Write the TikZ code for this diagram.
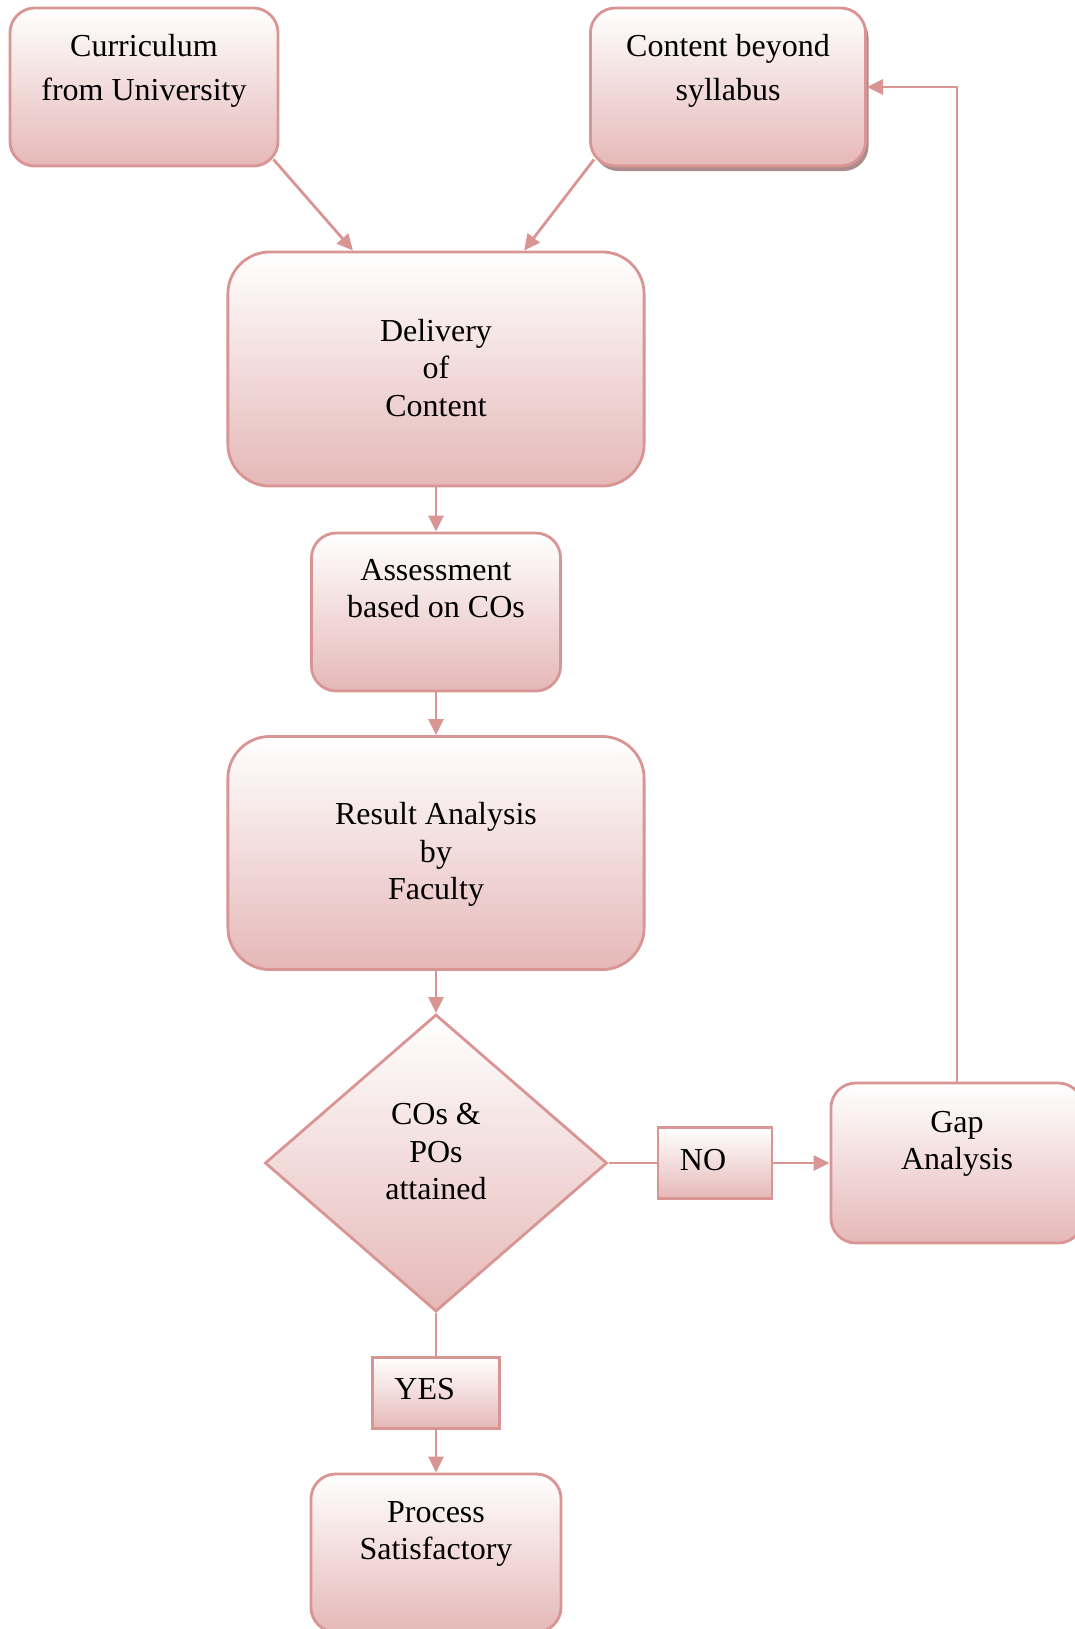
\documentclass[tikz,border=0pt]{standalone}
\usepackage{fontspec}
\setmainfont{Liberation Serif}
\usepackage{tikz}
\usetikzlibrary{shapes.geometric, arrows.meta, shadows}

\definecolor{boxline}{RGB}{217,149,148}
\definecolor{boxfill}{RGB}{229,184,183}
\definecolor{boxshadow}{RGB}{172,140,140}

% text block inside a box: width, height, top gap, lines
\newcommand{\boxtxt}[4]{\parbox[c][#2][t]{#1}{\centering\vspace*{#3}#4}}

\begin{document}
\begin{tikzpicture}[x=0.01cm, y=-0.01cm,
  every node/.style={font=\fontsize{9.1pt}{10.65pt}\selectfont},
  flowbox/.style={draw=boxline, line width=0.8pt, top color=white, bottom color=boxfill, rounded corners=0.25cm, inner sep=0pt},
  bigbox/.style={flowbox, rounded corners=0.42cm},
  tagbox/.style={draw=boxline, line width=0.8pt, top color=white, bottom color=boxfill, inner sep=0pt},
  decision/.style={diamond, draw=boxline, line width=0.8pt, top color=white, bottom color=boxfill, inner sep=0pt, minimum width=3.42cm, minimum height=2.97cm},
  flow/.style={draw=boxline, line width=0.8pt, -{Triangle[length=0.16cm, width=0.15cm]}},
  link/.style={draw=boxline, line width=0.8pt}]

  \useasboundingbox (0,0) rectangle (1075,1629);

  % Inputs
  \node[flowbox, font=\fontsize{9.1pt}{12.4pt}\selectfont] (curr) at (144,87)
    {\boxtxt{2.68cm}{1.58cm}{0.265cm}{Curriculum\\from University}};
  \node[flowbox, font=\fontsize{9.1pt}{12.4pt}\selectfont,
    drop shadow={shadow xshift=0.03cm, shadow yshift=-0.05cm, fill=boxshadow, opacity=1}] (beyond) at (728,87)
    {\boxtxt{2.75cm}{1.58cm}{0.265cm}{Content beyond\\syllabus}};

  % Main column
  \node[bigbox] (deliv) at (436,369) {\boxtxt{4.16cm}{2.34cm}{0.67cm}{Delivery\\of\\Content}};
  \node[flowbox] (assess) at (436,612) {\boxtxt{2.49cm}{1.58cm}{0.26cm}{Assessment\\based on COs}};
  \node[bigbox] (result) at (436,853) {\boxtxt{4.16cm}{2.33cm}{0.66cm}{Result Analysis\\by\\Faculty}};
  \node[decision] (check) at (436,1163) {\boxtxt{1.4cm}{1.25cm}{0.03cm}{COs \&\\POs\\attained}};

  % Outcomes
  \node[tagbox] (no) at (715,1163) {\parbox[c][0.71cm][t]{1.14cm}{\vspace*{0.22cm}\hspace*{0.22cm}NO}};
  \node[flowbox] (gap) at (957,1163) {\boxtxt{2.52cm}{1.6cm}{0.28cm}{Gap\\Analysis}};
  \node[tagbox] (yes) at (436,1393) {\parbox[c][0.71cm][t]{1.27cm}{\vspace*{0.21cm}\hspace*{0.22cm}YES}};
  \node[flowbox] (proc) at (436,1553) {\boxtxt{2.5cm}{1.58cm}{0.275cm}{Process\\Satisfactory}};

  % Arrows into delivery
  \draw[flow] ([xshift=-0.06cm, yshift=0.08cm]curr.south east) -- ([xshift=-0.83cm]deliv.north);
  \draw[flow] ([xshift=0.05cm, yshift=0.08cm]beyond.south west) -- ([xshift=0.88cm]deliv.north);

  % Down the column
  \draw[flow] (deliv.south) -- (assess.north);
  \draw[flow] (assess.south) -- (result.north);
  \draw[flow] (result.south) -- (check.north);
  \draw[link] (check.east) -- (no.west);
  \draw[flow] (no.east) -- (gap.west);
  \draw[link] (check.south) -- (yes.north);
  \draw[flow] (yes.south) -- (proc.north);

  % Feedback loop
  \draw[flow] (gap.north) |- (beyond.east);

\end{tikzpicture}
\end{document}
